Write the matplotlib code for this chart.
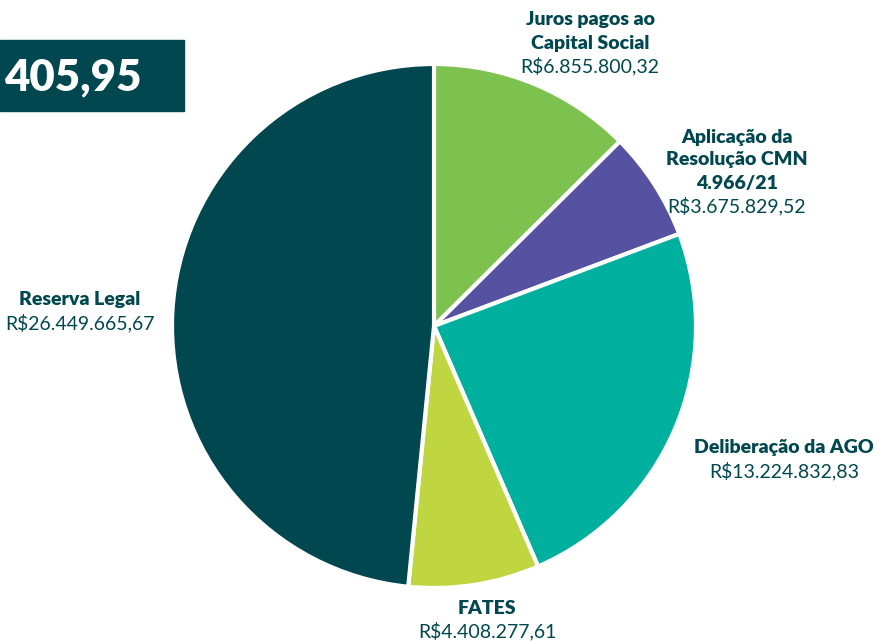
import matplotlib.pyplot as plt
from matplotlib.patches import Rectangle

plt.rcParams['font.family'] = ['Lato', 'DejaVu Sans']

labels = ['Juros pagos ao\nCapital Social', 'Aplicação da\nResolução CMN\n4.966/21',
          'Deliberação da AGO', 'FATES', 'Reserva Legal']
values = [6855800.32, 3675829.52, 13224832.83, 4408277.61, 26449665.67]
value_text = ['R$6.855.800,32', 'R$3.675.829,52', 'R$13.224.832,83',
              'R$4.408.277,61', 'R$26.449.665,67']
colors = ['#7DC24F', '#5652A1', '#00B09E', '#BFD641', '#00474F']
total_text = '405,95'

W, H = 875, 641
fig = plt.figure(figsize=(W / 100, H / 100), dpi=100)
ax = fig.add_axes([0, 0, 1, 1])

# y axis is inverted afterwards, so angles run the other way
ax.pie(values, colors=colors, startangle=-90, counterclock=True,
       center=(434, 326), radius=262, frame=True,
       wedgeprops=dict(edgecolor='white', linewidth=3))
ax.set_xlim(0, W)
ax.set_ylim(H, 0)
ax.axis('off')

dark = '#00474F'
# label anchor: (x center, y of first line), line height 23px
anchors = [(590, 20), (737, 137), (784, 448), (487, 608), (80, 300)]
for lab, val, (x, y) in zip(labels, value_text, anchors):
    lines = lab.split('\n')
    for i, ln in enumerate(lines):
        ax.text(x, y + 23 * i, ln, ha='center', va='center', fontsize=14,
                fontweight='heavy', color=dark)
    ax.text(x, y + 23 * len(lines), val, ha='center', va='center',
            fontsize=14, color=dark)

ax.add_patch(Rectangle((0, 40), 184, 71, color=dark, zorder=5))
ax.text(4, 77, total_text, ha='left', va='center', fontsize=31.5,
        fontweight='heavy', color='white', zorder=6)

fig.savefig('out.png', dpi=100)
